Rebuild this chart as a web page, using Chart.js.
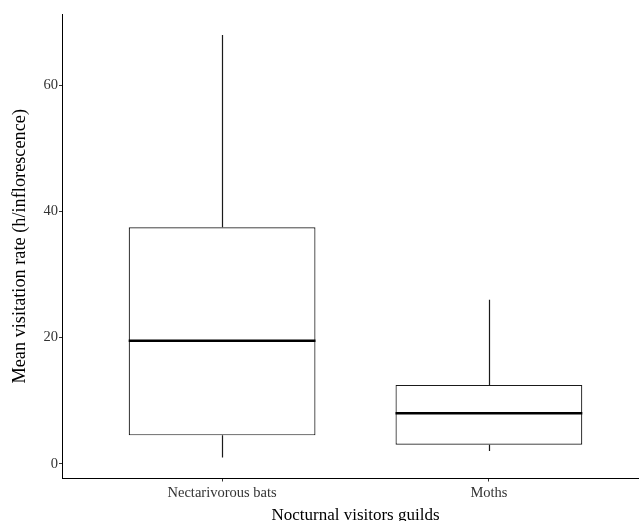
<!DOCTYPE html>
<html>
<head>
<meta charset="utf-8">
<script src="https://cdn.jsdelivr.net/npm/chart.js@4"></script>
<style>
  html, body { margin: 0; padding: 0; background: #fff; overflow: hidden; }
  #wrap { width: 649px; height: 525px; }
</style>
</head>
<body>
<div id="wrap"><canvas id="boxChart"></canvas></div>
<script>
// box plot values
const categories = ['Nectarivorous bats', 'Moths'];
const whiskerLow = [1, 2];
const q1 = [4.5, 3];
const median = [19.5, 8];
const q3 = [37.5, 12.5];
const whiskerHigh = [68, 26];
const yTicks = [0, 20, 40, 60];

const serif = 'Liberation Serif';
const lineColor = '#1a1a1a';

// whiskers behind the boxes, medians on top
const boxParts = {
  id: 'boxParts',
  beforeDatasetsDraw(chart) {
    const { ctx, scales: { x, y } } = chart;
    ctx.save();
    ctx.strokeStyle = lineColor;
    ctx.lineWidth = 1.2;
    categories.forEach((c, i) => {
      const px = Math.round(x.getPixelForValue(i + 1)) + 0.5;
      ctx.beginPath();
      ctx.moveTo(px, y.getPixelForValue(whiskerLow[i]));
      ctx.lineTo(px, y.getPixelForValue(q1[i]));
      ctx.moveTo(px, y.getPixelForValue(q3[i]));
      ctx.lineTo(px, y.getPixelForValue(whiskerHigh[i]));
      ctx.stroke();
    });
    ctx.restore();
  },
  afterDatasetsDraw(chart) {
    const { ctx, scales: { y } } = chart;
    const bars = chart.getDatasetMeta(0).data;
    ctx.save();
    ctx.strokeStyle = '#000';
    ctx.lineWidth = 2.5;
    bars.forEach((bar, i) => {
      const py = y.getPixelForValue(median[i]);
      ctx.beginPath();
      ctx.moveTo(bar.x - bar.width / 2, py);
      ctx.lineTo(bar.x + bar.width / 2, py);
      ctx.stroke();
    });
    ctx.restore();
  }
};

const ctx = document.getElementById('boxChart').getContext('2d');
new Chart(ctx, {
  type: 'bar',
  data: {
    datasets: [{
      data: categories.map((c, i) => ({ x: i + 1, y: [q1[i], q3[i]] })),
      backgroundColor: '#fff',
      borderColor: lineColor,
      borderWidth: 1.2,
      borderSkipped: false,
      categoryPercentage: 1,
      barPercentage: 0.7
    }]
  },
  options: {
    responsive: true,
    maintainAspectRatio: false,
    animation: false,
    layout: { padding: { top: 14, right: 0, bottom: 0, left: 0 } },
    plugins: {
      legend: { display: false },
      tooltip: { enabled: false }
    },
    scales: {
      x: {
        type: 'linear',
        min: 0.4,
        max: 2.6,
        offset: false,
        afterBuildTicks: (axis) => { axis.ticks = categories.map((c, i) => ({ value: i + 1 })); },
        afterFit: (axis) => { axis.height = 46.5; },
        grid: { display: true, offset: false, drawOnChartArea: false, drawTicks: true, tickLength: 3, color: '#333' },
        border: { display: true, color: '#000', width: 1 },
        ticks: {
          padding: 2.5,
          color: '#333',
          font: { family: serif, size: 14.5 },
          callback: (v) => categories[v - 1] || ''
        },
        title: {
          display: true,
          text: 'Nocturnal visitors guilds',
          color: '#000',
          font: { family: serif, size: 17 },
          padding: { top: 4, bottom: -1 }
        }
      },
      y: {
        min: -2.35,
        max: 71.35,
        afterBuildTicks: (axis) => { axis.ticks = yTicks.map(v => ({ value: v })); },
        afterFit: (axis) => { axis.width = 62; },
        grid: { display: true, drawOnChartArea: false, drawTicks: true, tickLength: 3, color: '#333' },
        border: { display: true, color: '#000', width: 1 },
        ticks: {
          padding: 1,
          color: '#333',
          font: { family: serif, size: 14.5 }
        },
        title: {
          display: true,
          text: 'Mean visitation rate (h/inflorescence)',
          color: '#000',
          font: { family: serif, size: 18.3 },
          padding: { top: 9, bottom: 0 }
        }
      }
    }
  },
  plugins: [boxParts]
});
</script>
</body>
</html>
